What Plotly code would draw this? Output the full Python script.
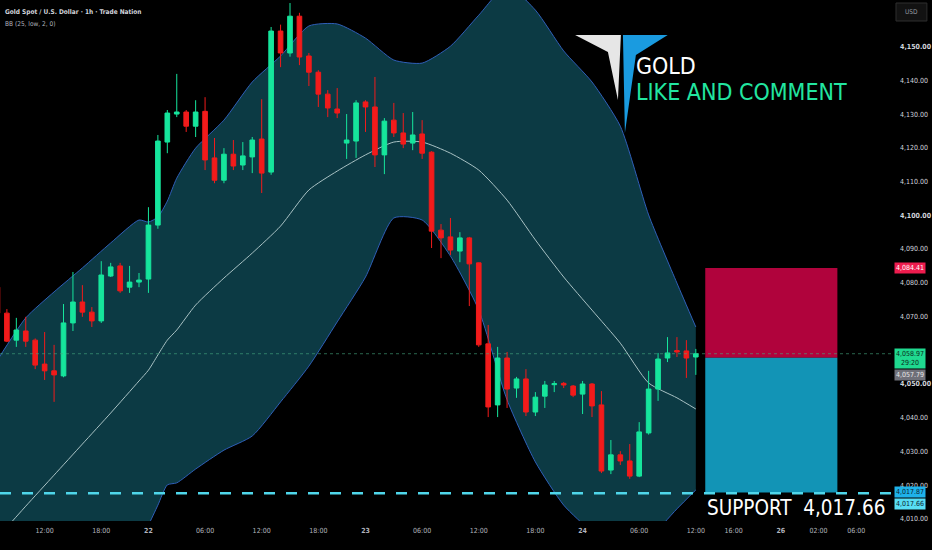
import plotly.graph_objects as go

# hourly bars, bar 0 = 22 Oct 00:00 (23 bars per trading day)
bar_index = list(range(-16, 59))
opens = [4078.7, 4071.0, 4063.0, 4065.7, 4063.0, 4055.9, 4053.9, 4052.4, 4068.1, 4074.3,
         4071.3, 4068.7, 4082.0, 4085.0, 4078.7, 4080.2, 4081.1, 4097.1, 4121.7, 4130.0,
         4130.6, 4126.4, 4130.8, 4117.0, 4110.4, 4118.1, 4114.9, 4117.3, 4122.6, 4112.8,
         4154.6, 4148.1, 4159.0, 4147.2, 4142.4, 4135.9, 4131.5, 4121.4, 4122.0, 4133.6,
         4132.1, 4117.9, 4128.2, 4124.4, 4121.4, 4124.1, 4118.7, 4095.6, 4093.6, 4089.4,
         4093.3, 4085.9, 4061.9, 4043.8, 4057.7, 4048.8, 4051.5, 4041.7, 4046.4, 4049.8,
         4050.2, 4049.4, 4047.0, 4050.0, 4043.8, 4024.5, 4029.0, 4027.2, 4022.7, 4035.5,
         4048.5, 4057.7, 4059.9, 4059.8, 4058.0]
highs = [4080.0, 4072.2, 4069.6, 4069.9, 4063.5, 4065.4, 4061.6, 4073.7, 4083.2, 4079.3,
         4072.8, 4086.4, 4085.9, 4085.9, 4085.0, 4082.9, 4102.4, 4123.8, 4131.2, 4141.9,
         4131.2, 4134.1, 4135.0, 4122.9, 4119.9, 4122.3, 4121.7, 4123.2, 4134.4, 4155.8,
         4156.5, 4162.9, 4160.0, 4148.1, 4143.0, 4137.1, 4137.7, 4130.0, 4134.1, 4134.1,
         4141.0, 4128.8, 4133.3, 4130.3, 4130.6, 4128.2, 4119.0, 4097.4, 4099.2, 4095.0,
         4093.6, 4086.0, 4067.5, 4061.0, 4059.5, 4052.1, 4054.4, 4047.6, 4050.9, 4050.9,
         4050.6, 4049.7, 4050.9, 4050.3, 4047.9, 4033.4, 4030.1, 4032.2, 4038.7, 4053.9,
         4059.2, 4063.9, 4063.9, 4063.0, 4060.4]
lows = [4070.0, 4062.4, 4061.0, 4061.0, 4054.4, 4051.2, 4044.7, 4052.0, 4065.7, 4069.9,
        4066.9, 4068.1, 4081.7, 4077.0, 4077.0, 4078.7, 4077.0, 4096.0, 4118.4, 4129.1,
        4124.7, 4123.2, 4113.4, 4109.5, 4109.5, 4113.4, 4113.4, 4112.5, 4106.6, 4112.0,
        4143.9, 4147.0, 4144.5, 4138.3, 4132.1, 4129.1, 4128.8, 4116.7, 4117.0, 4124.7,
        4114.3, 4112.2, 4123.2, 4119.9, 4119.3, 4116.7, 4090.3, 4087.3, 4088.2, 4086.1,
        4073.1, 4061.0, 4040.2, 4040.2, 4042.9, 4045.9, 4040.5, 4040.5, 4042.9, 4047.6,
        4048.8, 4046.1, 4041.1, 4040.2, 4023.6, 4023.3, 4026.0, 4021.9, 4022.4, 4035.0,
        4045.0, 4056.5, 4058.0, 4051.8, 4052.7]
closes = [4071.0, 4062.7, 4066.0, 4062.7, 4055.6, 4053.9, 4052.7, 4068.1, 4074.3, 4071.3,
          4068.7, 4082.3, 4084.7, 4077.6, 4080.2, 4080.8, 4097.1, 4122.0, 4130.3, 4130.6,
          4126.4, 4130.6, 4116.4, 4110.4, 4118.1, 4114.6, 4117.6, 4122.3, 4112.5, 4154.6,
          4148.1, 4159.0, 4146.9, 4142.4, 4135.9, 4131.8, 4130.3, 4122.3, 4133.3, 4132.1,
          4117.9, 4127.9, 4124.4, 4121.1, 4123.8, 4118.4, 4095.3, 4093.3, 4089.7, 4093.3,
          4085.6, 4061.6, 4043.2, 4057.7, 4048.5, 4051.5, 4041.7, 4046.1, 4049.7, 4050.1,
          4049.7, 4046.7, 4050.0, 4043.5, 4024.2, 4029.0, 4027.2, 4022.7, 4035.8, 4048.5,
          4057.4, 4059.2, 4059.5, 4057.7, 4058.97]

# Bollinger Bands (25, low, 2, 0)
band_index = [-16, -13, -10, -7, -4, -1, 0, 1, 2, 3, 5, 8, 11, 14, 17, 20, 23, 26, 29,
              32, 35, 38, 41, 44, 47, 50, 53, 56, 58]
bb_upper = [4057.1, 4069.6, 4077.3, 4084.4, 4091.8, 4098.6, 4098.0, 4099.5, 4104.2, 4111.0,
            4119.9, 4128.2, 4139.5, 4147.2, 4156.1, 4156.7, 4152.5, 4146.0, 4145.1,
            4150.1, 4159.3, 4168.0, 4160.8, 4148.7, 4139.5, 4126.4, 4100.1, 4079.9, 4066.9]
bb_basis = [4004.4, 4013.8, 4023.0, 4032.2, 4041.4, 4050.9, 4054.1, 4058.6, 4063.0, 4066.0,
            4073.4, 4081.4, 4088.8, 4096.8, 4107.5, 4113.1, 4117.9, 4121.7, 4121.7,
            4118.4, 4113.4, 4104.5, 4092.7, 4081.7, 4071.9, 4062.1, 4050.3, 4045.9, 4042.6]
bb_lower = [3952.0, 3958.0, 3969.0, 3980.0, 3991.0, 4003.0, 4008.2, 4014.1, 4020.1, 4020.7,
            4024.8, 4030.4, 4034.6, 4044.7, 4055.3, 4068.4, 4081.7, 4099.2, 4098.6,
            4087.9, 4071.9, 4045.3, 4026.9, 4014.1, 4006.0, 3998.0, 4004.0, 4013.0, 4018.6]

# time axis
time_ticks = [-11, -5, 0, 6, 12, 18, 23, 29, 35, 41, 46, 52, 58, 62, 67, 71, 75]
time_labels = ["12:00", "18:00", "<b>22</b>", "06:00", "12:00", "18:00", "<b>23</b>",
               "06:00", "12:00", "18:00", "<b>24</b>", "06:00", "12:00", "16:00",
               "<b>26</b>", "02:00", "06:00"]
# 4,060 sits under the last-price label, so it is left out
price_ticks = [p for p in range(4010, 4160, 10) if p != 4060]

# levels
last_price = 4058.97
entry_price = 4057.79
stop_price = 4084.41
target_price = 4017.87
support_price = 4017.66
position_start, position_end = 59, 73

GREEN = "#16e59c"
RED = "#f21b1b"
FONT = "DejaVu Sans Condensed, DejaVu Sans, sans-serif"
PLOT_W, PLOT_H = 897, 521
X_RANGE = [-15.73, 79.0]
Y_RANGE = [4009.4, 4163.8]


def pp(x, y):
    # pixel inside plot area -> paper coords
    return x / PLOT_W, 1 - y / PLOT_H


fig = go.Figure()

# bands on the base axes, candles on an overlay so they sit above the fill
fig.add_trace(go.Scatter(x=band_index, y=bb_upper, mode="lines",
                         line=dict(color="#2f5fb8", width=1, shape="spline", smoothing=0.6),
                         hoverinfo="skip"))
fig.add_trace(go.Scatter(x=band_index, y=bb_lower, mode="lines", fill="tonexty",
                         fillcolor="#0c3a44",
                         line=dict(color="#2f5fb8", width=1, shape="spline", smoothing=0.6),
                         hoverinfo="skip"))
fig.add_trace(go.Scatter(x=band_index, y=bb_basis, mode="lines",
                         line=dict(color="#a9c2c4", width=1, shape="spline", smoothing=0.6),
                         hoverinfo="skip"))

fig.add_trace(go.Candlestick(
    x=bar_index, open=opens, high=highs, low=lows, close=closes,
    xaxis="x2", yaxis="y2",
    increasing=dict(line=dict(color=GREEN, width=1), fillcolor=GREEN),
    decreasing=dict(line=dict(color=RED, width=1), fillcolor=RED),
    whiskerwidth=0,
))

shapes = []
# position tool
shapes.append(dict(type="rect", xref="x", yref="y", x0=position_start, x1=position_end,
                   y0=entry_price, y1=stop_price, fillcolor="#b0033c",
                   line=dict(width=0), layer="above"))
shapes.append(dict(type="rect", xref="x", yref="y", x0=position_start, x1=position_end,
                   y0=target_price, y1=entry_price, fillcolor="#1294b6",
                   line=dict(width=0), layer="above"))
# last price dotted line
shapes.append(dict(type="line", xref="paper", yref="y", x0=0, x1=1,
                   y0=last_price, y1=last_price,
                   line=dict(color="rgba(70,170,130,0.6)", width=1, dash="dot"),
                   layer="above"))
# support dashed line
shapes.append(dict(type="line", xref="paper", yref="y", x0=0, x1=1,
                   y0=support_price, y1=support_price,
                   line=dict(color="#4fd6ea", width=2.5, dash="11px,11px"),
                   layer="above"))


# logo wings
def path(points):
    pts = [pp(x, y) for x, y in points]
    return "M " + " L ".join(f"{a:.4f},{b:.4f}" for a, b in pts) + " Z"


shapes.append(dict(type="path", xref="paper", yref="paper",
                   path=path([(577, 35), (623, 35), (620, 100), (610, 52)]),
                   fillcolor="#e6e6e6", line=dict(width=0), layer="above"))
shapes.append(dict(type="path", xref="paper", yref="paper",
                   path=path([(625, 35), (670, 35), (638, 55), (627, 133)]),
                   fillcolor="#1a9be0", line=dict(width=0), layer="above"))

# USD box
x0, y0 = pp(899, 3)
x1, y1 = pp(930, 21)
shapes.append(dict(type="rect", xref="paper", yref="paper", x0=x0, x1=x1, y0=y0, y1=y1,
                   fillcolor="#121212", line=dict(color="#2e2e2e", width=1)))

annotations = []


def text(px_x, px_y, s, size, color, anchor="left", yanchor="middle"):
    ax, ay = pp(px_x, px_y)
    annotations.append(dict(xref="paper", yref="paper", x=ax, y=ay, text=s,
                            showarrow=False, xanchor=anchor, yanchor=yanchor,
                            borderpad=0,
                            font=dict(family=FONT, size=size, color=color)))


text(4, 12, "<b>Gold Spot / U.S. Dollar · 1h · Trade Nation</b>", 6.5, "#d1d4dc")
text(4, 24, "BB (25, low, 2, 0)", 6.5, "#b2b5be")
text(637, 66, "GOLD", 23, "#ffffff")
text(637, 92, "LIKE AND COMMENT", 23, "#22e6a0")
text(889, 508, "SUPPORT  4,017.66", 20.5, "#ffffff", anchor="right")
text(914.5, 12, "USD", 6.5, "#9598a1", anchor="center")


def price_label(price, s, bg, color, yanchor="middle", yshift=0):
    annotations.append(dict(xref="paper", yref="y", x=1, y=price, text=s,
                            showarrow=False, xanchor="left", yanchor=yanchor,
                            xshift=0, yshift=yshift, bgcolor=bg, borderpad=1,
                            font=dict(family=FONT, size=7, color=color)))


price_label(stop_price, f"{stop_price:,.2f}", "#ee1c4e", "#ffffff")
price_label(last_price, f"{last_price:,.2f}<br>29:20", "#1fd98f", "#0c2a1d",
            yanchor="top", yshift=6)
price_label(entry_price, f"{entry_price:,.2f}", "#6f7079", "#e8e8e8",
            yanchor="top", yshift=-11)
price_label(target_price, f"{target_price:,.2f}", "#1eb2ea", "#0c2230")
price_label(support_price, f"{support_price:,.2f}", "#58def4", "#0c2230",
            yanchor="top", yshift=-5)

fig.update_layout(
    width=932, height=550,
    paper_bgcolor="#000000", plot_bgcolor="#000000",
    margin=dict(l=0, r=35, t=0, b=29),
    showlegend=False,
    shapes=shapes,
    annotations=annotations,
    xaxis=dict(range=X_RANGE, showgrid=False, zeroline=False, showline=False,
               tickmode="array", tickvals=time_ticks, ticktext=time_labels,
               tickfont=dict(family=FONT, size=7, color="#b2b5be"),
               ticklabelstandoff=4, fixedrange=True),
    yaxis=dict(side="right", range=Y_RANGE, showgrid=False, zeroline=False,
               showline=False, tickmode="array", tickvals=price_ticks,
               ticktext=[(f"<b>{p:,.2f}</b>" if p % 50 == 0 else f"{p:,.2f}")
                         for p in price_ticks],
               tickfont=dict(family=FONT, size=7, color="#d1d4dc"),
               ticklabelstandoff=5, fixedrange=True),
    xaxis2=dict(range=X_RANGE, overlaying="x", visible=False,
                rangeslider=dict(visible=False), fixedrange=True),
    yaxis2=dict(range=Y_RANGE, overlaying="y", side="right", visible=False,
                fixedrange=True),
)

fig.write_html("out.html", config={"displayModeBar": False},
               post_script="document.body.style.margin='0px';")
